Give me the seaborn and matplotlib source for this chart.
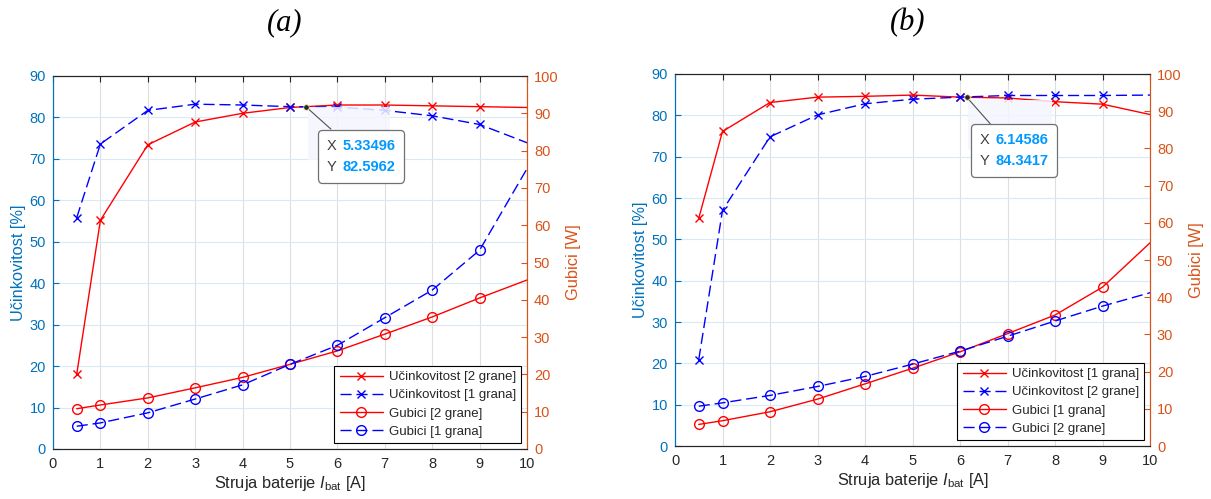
import numpy as np
import pandas as pd
import seaborn as sns
import matplotlib
matplotlib.use("Agg")
import matplotlib.pyplot as plt
from matplotlib.patches import Rectangle
from matplotlib.offsetbox import TextArea, HPacker, VPacker, AnnotationBbox

# ---------------- data ----------------
struja = [0.5, 1, 2, 3, 4, 5, 6, 7, 8, 9, 11]

# panel (a)
ucink_a_2grane = [18.0, 55.2, 73.4, 78.9, 81.0, 82.4, 83.0, 83.0, 82.8, 82.6, 82.2]
ucink_a_1grana = [55.8, 73.6, 81.7, 83.2, 83.0, 82.6, 82.5, 81.7, 80.4, 78.3, 69.5]
gubici_a_2grane = [10.8, 11.8, 13.7, 16.4, 19.2, 22.7, 26.3, 30.8, 35.4, 40.5, 50.1]
gubici_a_1grana = [6.1, 7.0, 9.7, 13.4, 17.2, 22.7, 27.8, 35.2, 42.6, 53.3, 97.0]

# panel (b)
ucink_b_1grana = [55.1, 76.1, 83.1, 84.4, 84.6, 84.9, 84.4, 84.2, 83.3, 82.7, 77.7]
ucink_b_2grane = [20.9, 57.0, 74.8, 80.1, 82.8, 83.9, 84.4, 84.8, 84.8, 84.8, 85.0]
gubici_b_1grana = [5.8, 6.8, 9.2, 12.6, 16.7, 20.9, 25.3, 30.2, 35.2, 42.7, 66.5]
gubici_b_2grane = [10.7, 11.6, 13.6, 16.0, 18.7, 22.0, 25.5, 29.5, 33.6, 37.6, 44.8]

datatip_a = (5.33496, 82.5962)
datatip_b = (6.14586, 84.3417)

x_ticks = list(range(0, 11))
left_ticks = list(range(0, 91, 10))
right_ticks = list(range(0, 101, 10))

titles = ["(a)", "(b)"]
legend_a = ["Učinkovitost [2 grane]", "Učinkovitost [1 grana]", "Gubici [2 grane]", "Gubici [1 grana]"]
legend_b = ["Učinkovitost [1 grana]", "Učinkovitost [2 grane]", "Gubici [1 grana]", "Gubici [2 grane]"]

# ---------------- style ----------------
sns.set_theme(style="white")
plt.rcParams["font.family"] = ["Liberation Sans", "DejaVu Sans"]
plt.rcParams["mathtext.fontset"] = "custom"
plt.rcParams["mathtext.rm"] = "Liberation Sans"
plt.rcParams["mathtext.it"] = "Liberation Sans:italic"

BLUE_AX = "#0072BD"
ORANGE_AX = "#D95319"
DARK = "#262626"
RED = "#FF0000"
BLUE = "#0000FF"
DASH = (0, (8, 3.5))
TICK_FS = 10.5
LABEL_FS = 11.8

fig = plt.figure(figsize=(12.11, 4.99), dpi=100)
ax_a = fig.add_axes([53 / 1211, 1 - 449 / 499, 474 / 1211, 373 / 499])
ax_b = fig.add_axes([675 / 1211, 1 - 446 / 499, 475 / 1211, 372 / 499])


def line(ax, y, color, ls, marker, label):
    ms = 6 if marker == "x" else 7
    sns.lineplot(x=struja, y=y, ax=ax, color=color, linestyle=ls, marker=marker,
                 markersize=ms, markeredgecolor=color, markerfacecolor="none",
                 markeredgewidth=1.0, linewidth=1.0, errorbar=None, sort=False,
                 label=label, legend=False)
    return ax.lines[-1]


def panel(ax, eff_red, eff_blue, loss_red, loss_blue, labels, title, tip, tip_off, rect):
    ax2 = ax.twinx()
    h1 = line(ax, eff_red, RED, "-", "x", labels[0])
    h2 = line(ax, eff_blue, BLUE, DASH, "x", labels[1])
    h3 = line(ax2, loss_red, RED, "-", "o", labels[2])
    h4 = line(ax2, loss_blue, BLUE, DASH, "o", labels[3])

    ax.set_xlim(0, 10)
    ax.set_ylim(0, 90)
    ax2.set_ylim(0, 100)
    ax.set_xticks(x_ticks)
    ax.set_yticks(left_ticks)
    ax2.set_yticks(right_ticks)

    ax.grid(False)
    ax2.grid(False)
    ax.xaxis.grid(True, color="#dedede", linewidth=0.8)
    ax.yaxis.grid(True, color="#d9eaf5", linewidth=0.8)
    ax.set_axisbelow(True)

    ax.tick_params(axis="x", direction="in", length=4, width=0.8, top=True,
                   colors=DARK, labelsize=TICK_FS, pad=6)
    ax.tick_params(axis="y", direction="in", length=4, width=0.8, colors=BLUE_AX,
                   labelsize=TICK_FS, pad=5, right=False)
    ax2.tick_params(axis="y", direction="in", length=4, width=0.8, colors=ORANGE_AX,
                    labelsize=TICK_FS, pad=5)

    for a in (ax, ax2):
        for s in a.spines.values():
            s.set_linewidth(0.8)
            s.set_visible(True)
        a.spines["top"].set_color(DARK)
        a.spines["bottom"].set_color(DARK)
        a.spines["left"].set_color(BLUE_AX)
        a.spines["right"].set_color(ORANGE_AX)

    ax.set_xlabel(r"Struja baterije $\mathit{I}_{\rm bat}$ [A]", fontsize=LABEL_FS,
                  color=DARK, labelpad=2)
    ax.set_ylabel("Učinkovitost [%]", fontsize=LABEL_FS, color=BLUE_AX, labelpad=3)
    ax2.set_ylabel("Gubici [W]", fontsize=LABEL_FS, color=ORANGE_AX, labelpad=5)

    leg = ax2.legend([h1, h2, h3, h4], labels, loc="lower right", fontsize=9.5,
                     frameon=True, fancybox=False, framealpha=1, edgecolor="black",
                     handlelength=3.3, handletextpad=0.4, borderpad=0.4,
                     labelspacing=0.45, borderaxespad=0.45)
    leg.get_frame().set_linewidth(0.8)

    # faint highlight region left by the data tip
    ax2.add_patch(Rectangle((rect[0], rect[1]), rect[2], rect[3], transform=ax.transAxes,
                            facecolor="#f5f5ff", edgecolor="none", alpha=0.85, zorder=5))

    # data tip
    row1 = HPacker(children=[TextArea("X", textprops=dict(color="#404040", size=10.5)),
                             TextArea(f"{tip[0]:g}", textprops=dict(color="#0099FF", size=10.5, weight="bold"))],
                   align="baseline", pad=0, sep=4)
    row2 = HPacker(children=[TextArea("Y", textprops=dict(color="#404040", size=10.5)),
                             TextArea(f"{tip[1]:g}", textprops=dict(color="#0099FF", size=10.5, weight="bold"))],
                   align="baseline", pad=0, sep=4)
    vbox = VPacker(children=[row1, row2], align="left", pad=0, sep=5)
    ab = AnnotationBbox(vbox, tip, xycoords=ax.transData, xybox=tip_off,
                        boxcoords="offset points", box_alignment=(0, 1), fontsize=10,
                        bboxprops=dict(boxstyle="round,pad=0.65,rounding_size=0.3",
                                       facecolor="white", edgecolor="#707070", linewidth=0.9),
                        arrowprops=dict(arrowstyle="-", color="#505050", linewidth=0.8,
                                        shrinkA=0, shrinkB=0),
                        zorder=7)
    ax2.add_artist(ab)
    ax2.plot([tip[0]], [tip[1]], transform=ax.transData, marker="o", markersize=4,
             markerfacecolor="#262626", markeredgecolor="#e6e6a0", markeredgewidth=0.6,
             zorder=8, clip_on=False)

    fig.text(ax.get_position().x0 + ax.get_position().width / 2 - 0.004, 1 - 23 / 499, title,
             ha="center", va="center", fontsize=22, fontstyle="italic",
             family=["Liberation Serif", "DejaVu Serif"], color="black")
    return ax2


panel(ax_a, ucink_a_2grane, ucink_a_1grana, gubici_a_2grane, gubici_a_1grana, legend_a,
      titles[0], datatip_a, (15.1, -23.0), (0.538, 0.775, 0.173, 0.142))
panel(ax_b, ucink_b_1grana, ucink_b_2grane, gubici_b_1grana, gubici_b_2grane, legend_b,
      titles[1], datatip_b, (9.4, -25.9), (0.617, 0.795, 0.177, 0.134))

fig.savefig("out.png", dpi=100, facecolor="white")
